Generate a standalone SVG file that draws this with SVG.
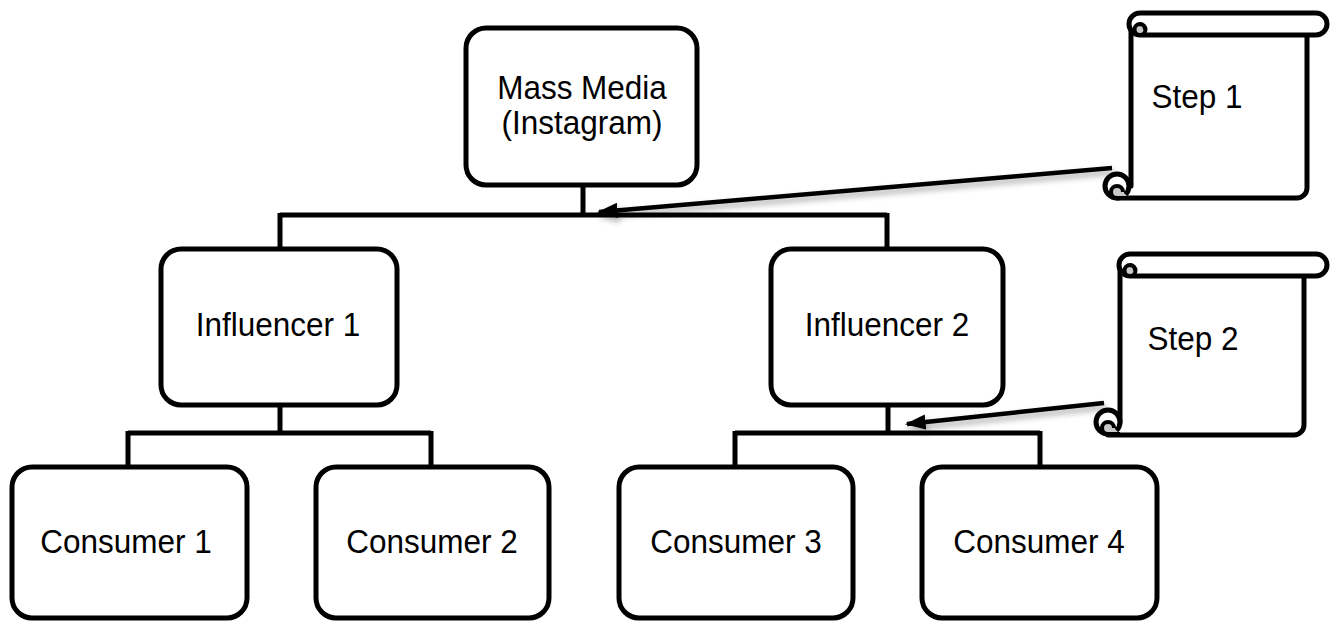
<svg xmlns="http://www.w3.org/2000/svg" width="1339" height="621" viewBox="0 0 1339 621">
<style>
.box{fill:#fff;stroke:#000;stroke-width:5}
.lbl{font-family:"Liberation Sans",Arial,sans-serif;font-size:31.5px;fill:#000;text-anchor:middle}
.conn{fill:none;stroke:#000;stroke-width:5}
.arr{fill:none;stroke:#000;stroke-width:4.5}
.scr{fill:#fff;stroke:#000;stroke-width:5;stroke-linejoin:round}
.curl{fill:#c8c8c8;stroke:#000;stroke-width:4}
</style>
<defs>
<marker id="ah" viewBox="0 0 10 10" refX="9" refY="5" markerWidth="4.6" markerHeight="3.4" orient="auto" markerUnits="strokeWidth" preserveAspectRatio="none">
<path d="M0,0 L10,5 L0,10 z" fill="#000"/>
</marker>
<filter id="sh" x="-10%" y="-200%" width="120%" height="500%">
<feGaussianBlur in="SourceAlpha" stdDeviation="3"/>
<feOffset dx="2" dy="4" result="b"/>
<feComponentTransfer><feFuncA type="linear" slope="0.35"/></feComponentTransfer>
<feMerge><feMergeNode/><feMergeNode in="SourceGraphic"/></feMerge>
</filter>
</defs>
<rect width="1339" height="621" fill="#fff"/>
<g id="connectors">
<path class="conn" d="M583,185 V215 M280,215 H887 M280,213 V248 M887,213 V248"/>
<path class="conn" d="M280,405 V433 M128,433 H431 M128,431 V466 M431,431 V466"/>
<path class="conn" d="M888,405 V433 M735,433 H1040 M735,431 V466 M1040,431 V466"/>
<line class="arr" x1="1112" y1="168" x2="599" y2="212" marker-end="url(#ah)" filter="url(#sh)"/>
<line class="arr" x1="1104" y1="403" x2="907" y2="424" marker-end="url(#ah)" filter="url(#sh)"/>
</g>
<g id="mass-media">
<rect class="box" x="466" y="28" width="231" height="157" rx="20"/>
<text class="lbl" transform="translate(582,99) scale(1,1.06)">Mass Media</text>
<text class="lbl" transform="translate(582,134) scale(1,1.06)">(Instagram)</text>
</g>
<g id="influencer-1">
<rect class="box" x="161" y="249" width="236" height="156" rx="20"/>
<text class="lbl" transform="translate(278,336) scale(1,1.06)">Influencer 1</text>
</g>
<g id="influencer-2">
<rect class="box" x="771" y="249" width="232" height="156" rx="20"/>
<text class="lbl" transform="translate(887,336) scale(1,1.06)">Influencer 2</text>
</g>
<g id="consumer-1">
<rect class="box" x="12" y="467" width="235" height="151" rx="20"/>
<text class="lbl" transform="translate(126,553) scale(1,1.06)">Consumer 1</text>
</g>
<g id="consumer-2">
<rect class="box" x="316" y="467" width="233" height="151" rx="20"/>
<text class="lbl" transform="translate(432,553) scale(1,1.06)">Consumer 2</text>
</g>
<g id="consumer-3">
<rect class="box" x="619" y="467" width="234" height="151" rx="20"/>
<text class="lbl" transform="translate(736,553) scale(1,1.06)">Consumer 3</text>
</g>
<g id="consumer-4">
<rect class="box" x="922" y="467" width="235" height="151" rx="20"/>
<text class="lbl" transform="translate(1039,553) scale(1,1.06)">Consumer 4</text>
</g>
<g id="step-1">
<path class="scr" d="M1131,25 V186 H1117 V198 H1297 A10,10 0 0 0 1307,188 V35"/>
<path class="scr" d="M1140,13 H1316 A11,11 0 0 1 1316,35 H1140 A11,11 0 0 1 1140,13 z"/>
<path class="curl" d="M1140,35 A5.5,5.5 0 0 1 1140,24 A5.5,5.5 0 0 1 1140,35 z M1140,24 A5.5,5.5 0 0 1 1145,29.5"/>
<circle class="scr" cx="1117" cy="186" r="12"/>
<path class="curl" d="M1117,186 A6,6 0 0 0 1117,198 H1129 M1117,186 A6,6 0 0 1 1123,192"/>
<text class="lbl" transform="translate(1197,108) scale(1,1.06)">Step 1</text>
</g>
<g id="step-2">
<path class="scr" d="M1120,266 V422 H1108 V435 H1294 A10,10 0 0 0 1304,425 V276"/>
<path class="scr" d="M1130,254 H1316 A11,11 0 0 1 1316,276 H1130 A11,11 0 0 1 1130,254 z"/>
<path class="curl" d="M1130,276 A5.5,5.5 0 0 1 1130,265 A5.5,5.5 0 0 1 1130,276 z M1130,265 A5.5,5.5 0 0 1 1135,270.5"/>
<circle class="scr" cx="1108" cy="422" r="12"/>
<path class="curl" d="M1108,422 A6,6 0 0 0 1108,434 H1120 M1108,422 A6,6 0 0 1 1114,428"/>
<text class="lbl" transform="translate(1193,350) scale(1,1.06)">Step 2</text>
</g>
</svg>
